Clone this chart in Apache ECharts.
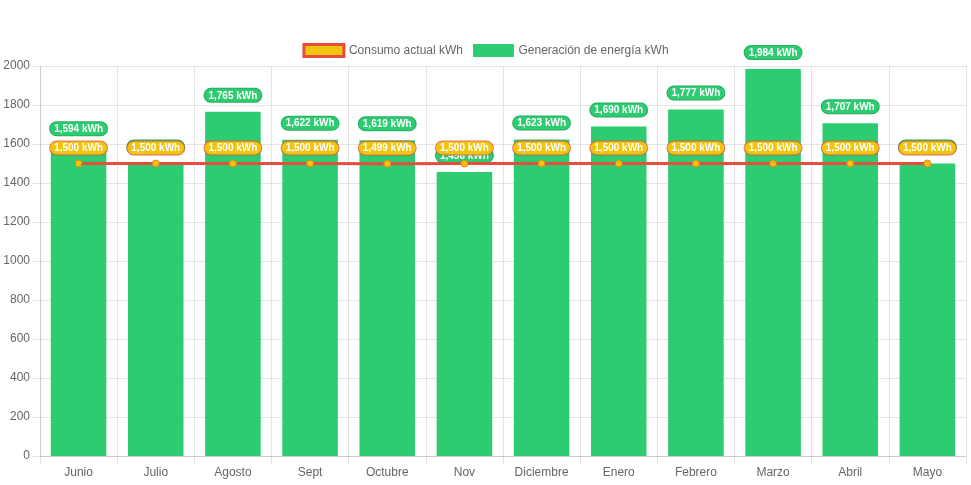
<!DOCTYPE html>
<html>
<head>
<meta charset="utf-8">
<script src="https://cdn.jsdelivr.net/npm/echarts@6/dist/echarts.min.js"></script>
<style>html,body{margin:0;padding:0;background:#fff}#c{width:971px;height:485px}</style>
</head>
<body>
<div id="c"></div>
<script>
var months = ['Junio','Julio','Agosto','Sept','Octubre','Nov','Diciembre','Enero','Febrero','Marzo','Abril','Mayo'];
var consumo = [1500,1500,1500,1500,1499,1500,1500,1500,1500,1500,1500,1500];
var generacion = [1594,1500,1765,1622,1619,1456,1623,1690,1777,1984,1707,1500];
var yTicks = {min:0, max:2000, interval:200};

var FONT = 'Arial, "Liberation Sans", Helvetica, sans-serif';
var GRID = 'rgba(0,0,0,0.1)';
function fmt(v){ return v.toLocaleString('en-US') + ' kWh'; }

var chart = echarts.init(document.getElementById('c'));
chart.setOption({
  animation:false,
  textStyle:{fontFamily:FONT},
  legend:{
    top:38, left:'center', itemWidth:40, itemHeight:12, itemGap:10,
    textStyle:{color:'#666', fontSize:12, fontFamily:FONT},
    data:[
      {name:'Consumo actual kWh', icon:'rect', itemStyle:{color:'#f1c40f', borderColor:'#e74c3c', borderWidth:3}},
      {name:'Generación de energía kWh', icon:'rect', itemStyle:{color:'#2ecc71', borderColor:'#2ecc71', borderWidth:1}}
    ]
  },
  grid:{left:40, right:5, top:66, bottom:29, containLabel:false, outerBoundsMode:'none'},
  xAxis:{
    type:'category', data:months, boundaryGap:true,
    axisLine:{show:true, lineStyle:{color:GRID}},
    axisTick:{show:true, length:8, lineStyle:{color:GRID}},
    splitLine:{show:true, lineStyle:{color:GRID}},
    axisLabel:{color:'#666', fontSize:12, margin:11, fontFamily:FONT, interval:0}
  },
  yAxis:{
    type:'value', min:yTicks.min, max:yTicks.max, interval:yTicks.interval,
    axisLine:{show:true, lineStyle:{color:GRID}},
    axisTick:{show:true, length:8, lineStyle:{color:GRID}},
    splitLine:{show:true, lineStyle:{color:GRID}},
    axisLabel:{color:'#666', fontSize:12, margin:10, fontFamily:FONT, formatter:function(v){return String(v);}}
  },
  series:[
    {
      name:'Generación de energía kWh', type:'bar', data:generacion, barWidth:'72%', z:2,
      itemStyle:{color:'#2ecc71'},
      label:{
        show:true, position:'top', distance:10,
        formatter:function(p){return fmt(p.value);},
        color:'#fff', fontWeight:'bold', fontSize:10, fontFamily:FONT,
        backgroundColor:'#2ecc71', borderColor:'#27ae60', borderWidth:1,
        borderRadius:7, padding:[2,4,1,4]
      }
    },
    {
      name:'Consumo actual kWh', type:'line', data:consumo, z:5,
      symbol:'circle', symbolSize:7, showAllSymbol:true,
      lineStyle:{color:'#e74c3c', width:3},
      itemStyle:{color:'#f1c40f', borderColor:'#e67e22', borderWidth:1},
      label:{
        show:true, position:'top', distance:5,
        formatter:function(p){return fmt(p.value);},
        color:'#fff', fontWeight:'bold', fontSize:10, fontFamily:FONT,
        backgroundColor:'#f1c40f', borderColor:'rgba(231,76,60,0.8)', borderWidth:1,
        borderRadius:7, padding:[2,4,1,4]
      }
    }
  ]
});
</script>
</body>
</html>
